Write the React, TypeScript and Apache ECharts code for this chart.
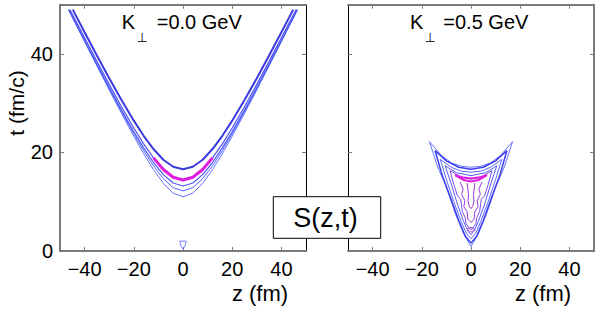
import React, { useEffect, useRef } from "react";
import * as echarts from "echarts";

// ---- ticks ----
const X_TICKS = [-40, -20, 0, 20, 40];
const Y_TICKS = [0, 20, 40];

// ---- left panel (K=0.0 GeV) contours, half curves z>=0 : [z, t] ----
const LEFT_A = [[0, 11], [4, 11.74], [8, 13.73], [12, 16.52], [16, 19.77], [20, 23.3], [25, 27.93], [30, 32.71], [35, 37.59], [40, 42.53], [46.5, 49]];
const LEFT_B = [[0, 12.2], [4, 12.86], [8, 14.68], [12, 17.29], [16, 20.38], [20, 23.78], [25, 28.28], [30, 32.96], [35, 37.75], [40, 42.61], [46.5, 49]];
const LEFT_C = [[0, 13.2], [4, 13.81], [8, 15.5], [12, 17.96], [16, 20.93], [20, 24.21], [25, 28.6], [30, 33.18], [35, 37.89], [40, 42.68], [46.5, 49]];
const LEFT_D = [[0, 14.4], [4, 14.97], [8, 16.55], [12, 18.9], [16, 21.76], [20, 24.97], [25, 29.29], [30, 33.82], [35, 38.5], [40, 43.27], [46, 49]];
const LEFT_D_CORE = [[0, 14.4], [4, 14.97], [8, 16.55], [12, 18.9]];
const LEFT_E = [[0, 16.6], [4, 17.11], [8, 18.53], [12, 20.7], [16, 23.39], [20, 26.46], [25, 30.64], [30, 35.08], [35, 39.69], [40, 44.42], [44.8, 49]];
const LEFT_SPOT = [[-1.3, 2], [1.3, 2], [0.9, 1.1], [0, 0.4], [-0.9, 1.1], [-1.3, 2]];

// ---- right panel (K=0.5 GeV) contours : [z, t] ----
const RIGHT_1 = [[-16.9, 22.2], [-12, 19.4], [-8, 17.9], [-4, 17.2], [0, 17.0], [4, 17.2], [8, 17.9], [12, 19.4], [16.9, 22.2], [13.5, 17], [10, 13], [6.3, 7.5], [3, 3.5], [0, 0.9], [-3, 3.5], [-6.3, 7.5], [-10, 13], [-13.5, 17], [-16.9, 22.2]];
const RIGHT_2 = [[-14.6, 20.4], [-10, 18.3], [-5, 17.0], [0, 16.6], [5, 17.0], [10, 18.3], [14.6, 20.4], [11.8, 15.5], [8.5, 11], [5, 6.2], [2.3, 3], [0, 1.6], [-2.3, 3], [-5, 6.2], [-8.5, 11], [-11.8, 15.5], [-14.6, 20.4]];
const RIGHT_3 = [[-12.5, 18.6], [-8, 17], [-4, 16.2], [0, 16], [4, 16.2], [8, 17], [12.5, 18.6], [10, 14.5], [7, 10], [4, 6], [1.8, 3.5], [0, 2.5], [-1.8, 3.5], [-4, 6], [-7, 10], [-10, 14.5], [-12.5, 18.6]];
const RIGHT_4 = [[-10.5, 17.3], [-6, 15.9], [0, 15.3], [6, 15.9], [10.5, 17.3], [8.3, 14], [5.5, 9.5], [3, 6], [1.2, 4], [0, 3.3], [-1.2, 4], [-3, 6], [-5.5, 9.5], [-8.3, 14], [-10.5, 17.3]];
const RIGHT_5 = [[-8.5, 16.3], [-4, 15], [0, 14.6], [4, 15], [8.5, 16.3], [7, 13.5], [5.5, 11.2], [4.2, 10.5], [3.5, 8], [2.4, 6.8], [2, 5.5], [0, 4.3], [-2, 5.5], [-2.4, 6.8], [-3.5, 8], [-4.2, 10.5], [-5.5, 11.2], [-7, 13.5], [-8.5, 16.3]];
const RIGHT_6 = [[-6.5, 15.4], [-3, 14.4], [0, 14.1], [3, 14.4], [6.5, 15.4], [3, 14.9], [0, 14.7], [-3, 14.9], [-6.5, 15.4]];
const RIGHT_7 = [[-4.5, 14], [-3.2, 12.6], [-3.8, 11.5], [-2.5, 10.2], [-2.9, 9], [-1.6, 8], [-1.3, 6.5], [0, 5.8], [1.3, 6.5], [1.6, 8], [2.9, 9], [2.5, 10.2], [3.8, 11.5], [3.2, 12.6], [4.5, 14]];
const RIGHT_8 = [[-1.6, 13.8], [-1, 11.5], [-1.2, 10], [-0.6, 9], [0, 8.6], [0.6, 9], [1.2, 10], [1, 11.5], [1.6, 13.8]];
const RIGHT_9 = [[-1.6, 4.4], [0, 3.8], [1.6, 4.4], [0, 4.8], [-1.6, 4.4]];

const mirror = (half: number[][]) => [
  ...half.slice(1).reverse().map(([z, t]) => [-z, t]),
  ...half,
];

const FONT = '"Liberation Sans", Arial, sans-serif';
const SYM_FONT = '"DejaVu Sans", sans-serif';
const GRAY = "#7a7a7a";

const fmt = (v: number) => (v < 0 ? "\u2212" + Math.abs(v) : String(v));

function xAxis(gridIndex: number, position: string, labels: boolean) {
  return {
    type: "value",
    gridIndex,
    position,
    min: -50,
    max: 50,
    axisLine: { show: true, onZero: false, lineStyle: { color: GRAY, width: 2 } },
    axisTick: { show: true, inside: true, length: 4, customValues: X_TICKS, lineStyle: { color: GRAY, width: 1 } },
    axisLabel: { show: labels, customValues: X_TICKS, formatter: fmt, color: "#000", fontSize: 20, fontFamily: FONT, margin: 8 },
    splitLine: { show: false },
  };
}

function yAxis(gridIndex: number, position: string, labels: boolean, color: string, width: number) {
  return {
    type: "value",
    gridIndex,
    position,
    min: 0,
    max: 50,
    axisLine: { show: true, onZero: false, lineStyle: { color, width } },
    axisTick: { show: true, inside: true, length: 4, customValues: Y_TICKS, lineStyle: { color: GRAY, width: 1 } },
    axisLabel: { show: labels, customValues: Y_TICKS, formatter: fmt, color: "#000", fontSize: 20, fontFamily: FONT, margin: 7 },
    splitLine: { show: false },
  };
}

function line(data: number[][], xi: number, yi: number, color: string, width: number, z = 2) {
  return {
    type: "line",
    xAxisIndex: xi,
    yAxisIndex: yi,
    data,
    showSymbol: false,
    symbol: "none",
    smooth: false,
    z,
    lineStyle: { color, width },
    silent: true,
  };
}

function txt(text: string, x: number, y: number, size: number, align = "left", rotation = 0, family = FONT) {
  return {
    type: "text",
    x,
    y,
    rotation,
    z: 100,
    style: {
      text,
      x: 0,
      y: 0,
      font: `${size}px ${family}`,
      fill: "#000",
      textAlign: align,
      align,
      textVerticalAlign: "middle",
      verticalAlign: "middle",
    },
  };
}

export default function App() {
  const ref = useRef<HTMLDivElement>(null);
  useEffect(() => {
    if (!ref.current) return;
    const chart = echarts.init(ref.current, null, { renderer: "svg" });
    const option: any = {
      animation: false,
      backgroundColor: "#fff",
      grid: [
        { left: 60, top: 4.7, width: 246, height: 246.3 },
        { left: 348, top: 4.7, width: 246, height: 246.3 },
      ],
      xAxis: [
        xAxis(0, "bottom", true),
        xAxis(0, "top", false),
        xAxis(1, "bottom", true),
        xAxis(1, "top", false),
      ],
      yAxis: [
        yAxis(0, "left", true, GRAY, 2),
        yAxis(0, "right", false, "#000", 1),
        yAxis(1, "left", false, "#000", 1),
        yAxis(1, "right", false, GRAY, 2),
      ],
      series: [
        line(mirror(LEFT_A), 0, 0, "#6272ff", 1),
        line(mirror(LEFT_B), 0, 0, "#5565ff", 1),
        line(mirror(LEFT_C), 0, 0, "#4a58f5", 1.2),
        line(mirror(LEFT_D), 0, 0, "#5050f0", 1.2),
        line(mirror(LEFT_D_CORE), 0, 0, "#e01ee0", 3, 3),
        line(mirror(LEFT_E), 0, 0, "#3a3ae0", 2),
        line(LEFT_SPOT, 0, 0, "#6c7cff", 1),
        line(RIGHT_1, 2, 2, "#6575ff", 1),
        line(RIGHT_2, 2, 2, "#3d3def", 1.5),
        line(RIGHT_3, 2, 2, "#5a68ff", 1),
        line(RIGHT_4, 2, 2, "#5a5cf5", 1),
        line(RIGHT_5, 2, 2, "#7a4af0", 1),
        line(RIGHT_6, 2, 2, "#e01ee0", 2, 3),
        line(RIGHT_7, 2, 2, "#9a3ae8", 1),
        line(RIGHT_8, 2, 2, "#a535e0", 1),
        line(RIGHT_9, 2, 2, "#a040e0", 1),
      ],
      graphic: [
        txt("K", 121.7, 22, 20),
        txt("\u22A5", 136.5, 37, 13, "left", 0, SYM_FONT),
        txt("=0.0 GeV", 156.7, 22, 20),
        txt("K", 410, 22, 20),
        txt("\u22A5", 424.5, 37, 13, "left", 0, SYM_FONT),
        txt("=0.5 GeV", 443.3, 22, 20),
        txt("t (fm/c)", 16, 103, 21, "center", Math.PI / 2),
        txt("z (fm)", 260, 293, 22, "center"),
        txt("z (fm)", 543, 293, 22, "center"),
        {
          type: "rect",
          z: 99,
          shape: { x: 273.3, y: 196.7, width: 107.4, height: 41.6 },
          style: { fill: "#fff", stroke: "#000", lineWidth: 1 },
        },
        txt("S(z,t)", 325.5, 218, 27, "center"),
      ],
    };
    chart.setOption(option);
    return () => chart.dispose();
  }, []);
  return (
    <div
      ref={ref}
      style={{ position: "fixed", left: 0, top: 0, width: 599, height: 310, background: "#fff" }}
    />
  );
}
